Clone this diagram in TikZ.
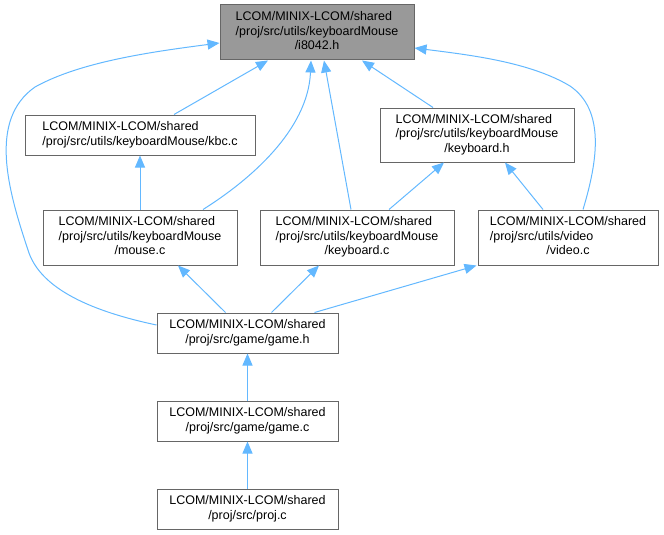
\documentclass[tikz,border=0pt]{standalone}
\usepackage{fontspec}
\setmainfont{Liberation Sans}
\usetikzlibrary{arrows.meta}
\definecolor{edgeblue}{HTML}{63B8FF}
\definecolor{boxgrey}{HTML}{666666}
\definecolor{mainfill}{HTML}{999999}

% label layouts: left lines, last line centred
\newcommand{\labthree}[3]{\begin{tabular}{@{}l@{}}#1\\#2\\\multicolumn{1}{@{}c@{}}{#3}\end{tabular}}
\newcommand{\labtwoleft}[2]{\begin{tabular}{@{}l@{}}#1\\#2\end{tabular}}
\newcommand{\labtwo}[2]{\begin{tabular}{@{}c@{}}#1\\#2\end{tabular}}

\begin{document}
\begin{tikzpicture}[x=1pt, y=-1pt,
  filebox/.style={draw=boxgrey, line width=1pt, fill=white, inner sep=0pt,
    font=\fontsize{12.5}{14.5}\selectfont},
  incl/.style={draw=edgeblue, line width=1pt, -{Triangle[length=12pt,width=10pt]}}]
\useasboundingbox (0,0) rectangle (664,535);

% Files
\node[filebox, fill=mainfill, minimum width=194pt, minimum height=55pt] (i8042) at (317,32.5)
    {\labthree{LCOM/MINIX-LCOM/shared}{/proj/src/utils/keyboardMouse}{/i8042.h}};
\node[filebox, minimum width=230pt, minimum height=40pt] (kbc) at (140,135)
    {\labtwoleft{LCOM/MINIX-LCOM/shared}{/proj/src/utils/keyboardMouse/kbc.c}};
\node[filebox, minimum width=194pt, minimum height=54pt] (kbdh) at (477,135)
    {\labthree{LCOM/MINIX-LCOM/shared}{/proj/src/utils/keyboardMouse}{/keyboard.h}};
\node[filebox, minimum width=194pt, minimum height=55pt] (mouse) at (140,237.5)
    {\labthree{LCOM/MINIX-LCOM/shared}{/proj/src/utils/keyboardMouse}{/mouse.c}};
\node[filebox, minimum width=194pt, minimum height=55pt] (kbdc) at (357,237.5)
    {\labthree{LCOM/MINIX-LCOM/shared}{/proj/src/utils/keyboardMouse}{/keyboard.c}};
\node[filebox, minimum width=180pt, minimum height=55pt] (video) at (568,237.5)
    {\labthree{LCOM/MINIX-LCOM/shared}{/proj/src/utils/video}{/video.c}};
\node[filebox, minimum width=181pt, minimum height=40pt] (gameh) at (247.5,333)
    {\labtwo{LCOM/MINIX-LCOM/shared}{/proj/src/game/game.h}};
\node[filebox, minimum width=181pt, minimum height=40pt] (gamec) at (247.5,421)
    {\labtwo{LCOM/MINIX-LCOM/shared}{/proj/src/game/game.c}};
\node[filebox, minimum width=181pt, minimum height=40pt] (proj) at (247.5,509)
    {\labtwo{LCOM/MINIX-LCOM/shared}{/proj/src/proj.c}};

% Includes of i8042.h
\draw[incl] ([xshift=34pt]kbc.north) -- ([xshift=-49pt]i8042.south);
\draw[incl] ([xshift=63pt]mouse.north) .. controls (250,180) and (308,130) .. ([xshift=-6pt]i8042.south);
\draw[incl] ([xshift=-6pt]kbdc.north) -- ([xshift=7pt]i8042.south);
\draw[incl] ([xshift=-44pt]kbdh.north) -- ([xshift=45pt]i8042.south);
\draw[incl] ([xshift=15pt]video.north) .. controls (598,160) and (605,110) .. (570,86)
    .. controls (530,62) and (470,55) .. ([yshift=-15.5pt]i8042.east);
\draw[incl] ([yshift=8pt]gameh.west) .. controls (95,312) and (40,290) .. (28,250)
    .. controls (8,190) and (-12,120) .. (35,87)
    .. controls (80,62) and (150,52) .. ([yshift=-10.5pt]i8042.west);

% Other includes
\draw[incl] (mouse) -- (kbc);
\draw[incl] ([xshift=32pt]kbdc.north) -- ([xshift=-33pt]kbdh.south);
\draw[incl] ([xshift=-25pt]video.north) -- ([xshift=28pt]kbdh.south);
\draw[incl] ([xshift=-22pt]gameh.north) -- ([xshift=38pt]mouse.south);
\draw[incl] ([xshift=24pt]gameh.north) -- ([xshift=-38pt]kbdc.south);
\draw[incl] ([xshift=67pt]gameh.north) -- ([xshift=-1pt]video.south west);
\draw[incl] (gamec) -- (gameh);
\draw[incl] (proj) -- (gamec);

\end{tikzpicture}
\end{document}
